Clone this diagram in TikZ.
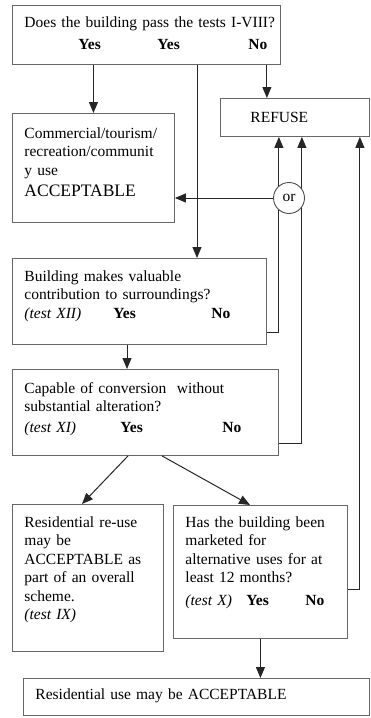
\documentclass[tikz,border=0pt]{standalone}
\usepackage{fontspec}
\setmainfont{Liberation Serif}
\usetikzlibrary{arrows.meta}

\begin{document}
\begin{tikzpicture}[x=1pt,y=-1pt,
  font=\fontsize{15.5pt}{18.5pt}\selectfont,
  box/.style={draw=black!60,line width=0.9pt,anchor=north west,align=left,
    inner xsep=12pt,inner ysep=0pt},
  arr/.style={draw=black!85,line width=1pt,-{Triangle[width=9pt,length=11pt]}}]
  \useasboundingbox (0,0) rectangle (370,718);
  \node[box,text width=244pt,text height=22pt,text depth=37pt] (q1) at (12,5)
    {\mbox{Does the building pass the tests I-VIII?}\\[4pt]
     \hspace*{54pt}\makebox[79pt][l]{\textbf{Yes}}\makebox[91pt][l]{\textbf{Yes}}\textbf{No}};
  \node[box,text width=125pt,text height=24pt,text depth=14pt] (refuse) at (220,98)
    {\hspace*{18pt}REFUSE};
  \node[box,text width=138pt,text height=25pt,text depth=84pt] (commercial) at (12,113)
    {Commercial/tourism/\\recreation/communit\\y use\\[3pt]
     {\fontsize{17.5pt}{22pt}\selectfont ACCEPTABLE}};
  \node[box,text width=230pt,text height=23pt,text depth=63pt] (contrib) at (12,258)
    {Building makes valuable\\contribution to surroundings?\\
     \makebox[89pt][l]{\textit{(test XII)}}\makebox[98pt][l]{\textbf{Yes}}\textbf{No}};
  \node[box,text width=242pt,text height=24pt,text depth=62pt] (convert) at (12,369)
    {Capable of conversion\ \ without\\substantial alteration?\\[2pt]
     \makebox[96pt][l]{\textit{(test XI)}}\makebox[102pt][l]{\textbf{Yes}}\textbf{No}};
  \node[box,text width=127pt,text height=23pt,text depth=124pt] (reuse) at (12,504)
    {Residential re-use\\may be\\ACCEPTABLE as\\part of an overall\\scheme.\\
     \textit{(test IX)}};
  \node[box,text width=150pt,text height=22pt,text depth=111pt] (market) at (173,505)
    {Has the building been\\marketed for\\alternative uses for at\\least 12 months?\\[4pt]
     \makebox[61pt][l]{\textit{(test X)}}\makebox[59pt][l]{\textbf{Yes}}\textbf{No}};
  \node[box,text width=322pt,text height=21pt,text depth=16pt] (final) at (23,678)
    {Residential use may be ACCEPTABLE};

  % answers coming from the top question
  \coordinate (y2) at ([xshift=185pt]q1.south west);
  \coordinate (n0) at ([xshift=-14pt]q1.south east);
  \draw[arr] (commercial.north |- q1.south) -- (commercial.north);
  \draw[arr] (y2) -- (y2 |- contrib.north);
  \draw[arr] (n0) -- (n0 |- refuse.north);

  % the "No" answers go back up to REFUSE
  \draw[arr] ([yshift=12pt]contrib.south east) -- ++(12,0) coordinate (n1) -- (n1 |- refuse.south);
  \draw[arr] ([yshift=12pt]convert.south east) -- ++(23,0) coordinate (n2) -- (n2 |- refuse.south);
  \draw[arr] ([yshift=49pt]market.south east) -- ++(12,0) coordinate (n3) -- (n3 |- refuse.south);

  \node[circle,draw=black!70,line width=0.9pt,fill=white,minimum size=31pt,inner sep=0pt]
    (orsel) at (289,198) {or};
  \draw[arr] (orsel.west) -- (orsel.west -| commercial.east);

  \coordinate (y3) at ([xshift=115pt]contrib.south west);
  \draw[arr] (y3) -- (y3 |- convert.north);
  \draw[arr] ([xshift=116pt]convert.south west) -- ([xshift=70pt]reuse.north west);
  \draw[arr] ([xshift=150pt]convert.south west) -- ([xshift=77pt]market.north west);
  \draw[arr] (market.south) -- (market.south |- final.north);
\end{tikzpicture}
\end{document}
